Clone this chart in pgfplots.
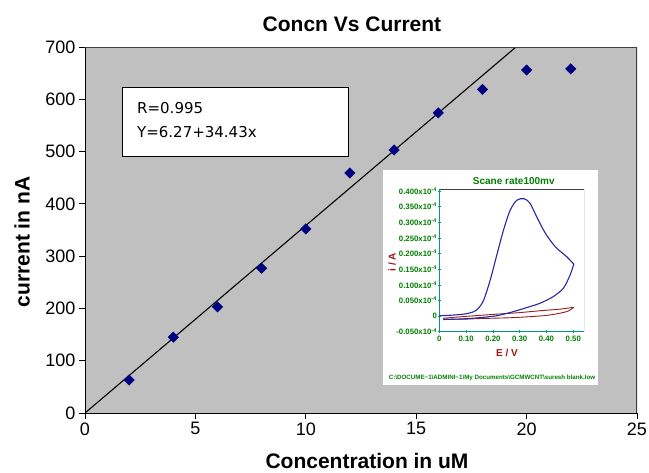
\documentclass[border=0pt]{standalone}
\usepackage{fontspec}
\setmainfont{Liberation Sans}
\newfontfamily\dejavu{DejaVu Sans}
\usepackage{pgfplots}
\pgfplotsset{compat=1.18}
\definecolor{bgray}{RGB}{192,192,192}
\definecolor{navymark}{RGB}{0,0,128}
\definecolor{frameg}{RGB}{64,64,64}
\definecolor{insgreen}{RGB}{0,128,0}
\definecolor{insteal}{RGB}{0,150,150}
\definecolor{insred}{RGB}{160,20,20}
\definecolor{cvblue}{RGB}{40,40,160}
\definecolor{cvred}{RGB}{150,30,30}

\pgfplotstableread{
x y
2 63
4 145
6 203
8 277
10 352
12 459
14 503
16 574
18 619
20 656
22 658
}\calib

\begin{document}
\begin{tikzpicture}
\path[use as bounding box] (0,0) rectangle (649pt,-473pt);
\begin{axis}[
  at={(85pt,-413pt)}, anchor=south west, scale only axis,
  width=552pt, height=366pt,
  xmin=0, xmax=25, ymin=0, ymax=700,
  xtick={0,5,10,15,20,25}, ytick={0,100,200,300,400,500,600,700},
  axis x line*=bottom, axis y line*=left,
  axis line style={black, line width=0.8pt, -},
  tick align=outside, major tick length=6pt,
  tick style={black, line width=0.8pt},
  axis background/.style={fill=bgray},
  ticklabel style={font=\fontsize{18}{20}\selectfont},
  /pgf/number format/assume math mode=true,
]
\addplot[black, line width=1.1pt] coordinates {(0,0) (19.52,700)};
\addplot[only marks, mark=square*, mark size=3.7pt, mark options={rotate=45}, color=navymark] table[x=x,y=y] {\calib};
\draw[frameg, line width=1.5pt] (rel axis cs:0,1) -- (rel axis cs:1,1) -- (rel axis cs:1,0);
\end{axis}

% titles
\node[font=\fontsize{21}{24}\selectfont\bfseries] at (352pt,-24pt) {Concn Vs Current};
\node[font=\fontsize{21}{24}\selectfont\bfseries] at (367pt,-461pt) {Concentration in uM};
\node[rotate=90, font=\fontsize{21}{24}\selectfont\bfseries] at (22pt,-242pt) {current in nA};

% text box
\draw[black, fill=white, line width=0.8pt] (122.7pt,-87.3pt) rectangle (348pt,-156.7pt);
\node[anchor=base west, inner sep=0pt, font=\dejavu\fontsize{15}{18}\selectfont] at (137pt,-114pt) {R=0.995};
\node[anchor=base west, inner sep=0pt, font=\dejavu\fontsize{15}{18}\selectfont] at (137pt,-138pt) {Y=6.27+34.43x};

% inset panel
\fill[white] (383pt,-170pt) rectangle (598pt,-385pt);
\begin{axis}[
  at={(439.3pt,-331.7pt)}, anchor=south west, scale only axis,
  width=144.7pt, height=142.7pt,
  xmin=0, xmax=0.54, ymin=-0.05, ymax=0.406,
  axis x line*=bottom, axis y line*=left,
  axis line style={insteal, line width=0.6pt, -},
  xtick={0,0.1,0.2,0.3,0.4,0.5},
  xticklabels={0,0.10,0.20,0.30,0.40,0.50},
  ytick={-0.05,0,0.05,0.1,0.15,0.2,0.25,0.3,0.35,0.4},
  yticklabels={-0.050x10\textsuperscript{-4},0,0.050x10\textsuperscript{-4},0.100x10\textsuperscript{-4},0.150x10\textsuperscript{-4},0.200x10\textsuperscript{-4},0.250x10\textsuperscript{-4},0.300x10\textsuperscript{-4},0.350x10\textsuperscript{-4},0.400x10\textsuperscript{-4}},
  tick align=center, major tick length=2.5pt,
  tick style={insteal, line width=0.5pt},
  ticklabel style={font=\fontsize{7.8}{8}\selectfont\bfseries, text=insgreen},
  yticklabel style={inner sep=1pt},
]
\addplot[cvred, line width=0.9pt, smooth, tension=0.4] coordinates {
(0.014,-0.007) (0.1,-0.001) (0.214,0.006) (0.3,0.011) (0.376,0.017) (0.45,0.022) (0.502,0.028)};
\addplot[cvred, line width=0.9pt, smooth, tension=0.4] coordinates {
(0.502,0.028) (0.475,0.014) (0.40,0.002) (0.276,-0.005) (0.15,-0.008) (0.09,-0.010) (0.014,-0.010)};
\addplot[cvblue, line width=1.1pt, smooth, tension=0.5] coordinates {
(0,0.001) (0.05,0.003) (0.09,0.006) (0.114,0.010) (0.139,0.019) (0.164,0.048) (0.189,0.112)
(0.214,0.193) (0.239,0.273) (0.264,0.337) (0.289,0.370) (0.316,0.375) (0.338,0.361)
(0.363,0.318) (0.388,0.276) (0.413,0.243) (0.438,0.217) (0.475,0.190) (0.502,0.166)};
\addplot[cvblue, line width=1.1pt, smooth, tension=0.5] coordinates {
(0.502,0.166) (0.488,0.131) (0.463,0.089) (0.425,0.062) (0.376,0.041) (0.326,0.027)
(0.276,0.014) (0.214,0.001) (0.152,-0.005) (0.09,-0.009) (0.015,-0.011)};
\draw[frameg, line width=0.8pt] (rel axis cs:0,1) -- (rel axis cs:1,1) -- (rel axis cs:1,0);
\end{axis}
\node[font=\bfseries\fontsize{10}{12}\selectfont, text=insgreen] at (513.8pt,-180.7pt) {Scane rate100mv};
\node[rotate=90, font=\bfseries\fontsize{10}{12}\selectfont, text=insred] at (392pt,-262pt) {i / A};
\node[font=\bfseries\fontsize{10}{12}\selectfont, text=insred] at (507pt,-353pt) {E / V};
\node[font=\bfseries\fontsize{6.2}{7}\selectfont, text=insgreen, inner sep=0pt] at (492pt,-378pt) {C:\textbackslash DOCUME\textasciitilde 1\textbackslash ADMINI\textasciitilde 1\textbackslash My Documents\textbackslash GCMWCNT\textbackslash suresh blank.low};
\end{tikzpicture}
\end{document}
